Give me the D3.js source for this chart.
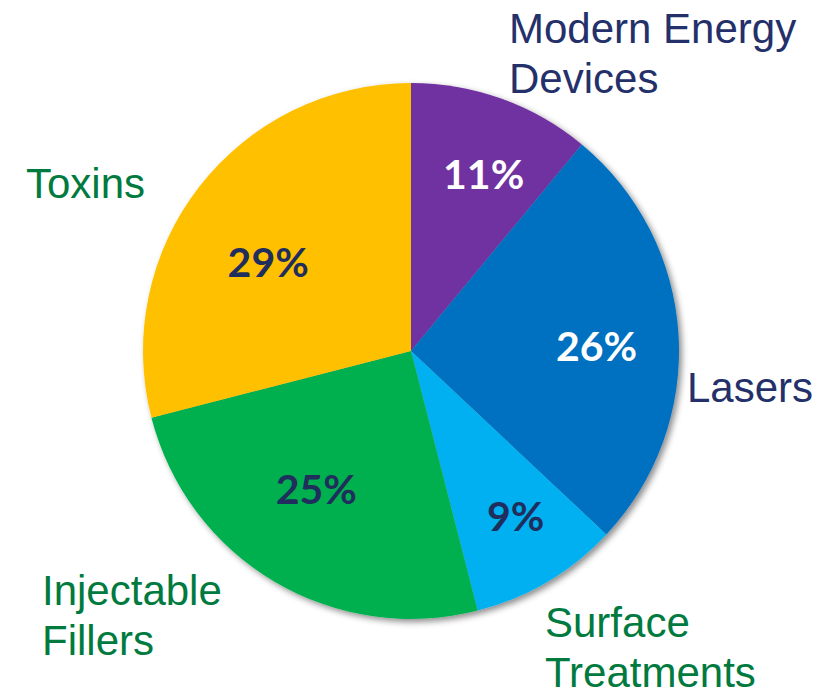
<!DOCTYPE html>
<html><head><meta charset="utf-8">
<script src="https://cdn.jsdelivr.net/npm/d3@7"></script>
<style>html,body{margin:0;padding:0;background:#fff;}svg{display:block;}</style>
</head><body>
<svg id="chart" width="840" height="692"></svg>
<script>
// ---- data ----
const categories = ["Modern Energy Devices", "Lasers", "Surface Treatments", "Injectable Fillers", "Toxins"];
const values = [11, 26, 9, 25, 29];
const labelLines = [["Modern Energy", "Devices"], ["Lasers"], ["Surface", "Treatments"], ["Injectable", "Fillers"], ["Toxins"]];

// ---- styles / layout ----
const colors = ["#7030A0", "#0070C0", "#00B0F0", "#00B050", "#FFC000"];
const pctColors = ["#FFFFFF", "#FFFFFF", "#1F2E5C", "#1F2E5C", "#1F2E5C"];
const nameColors = ["#24306A", "#24306A", "#007A3E", "#007A3E", "#007A3E"];
const namePos = [[509, 43], [687, 402], [545, 637], [42, 605], [26, 198]];
const pctNudge = [[11, -5], [4, 7], [12, 9], [-2, -18], [1, 23]];
const cx = 411, cy = 351, R = 268, labelR = 182;

const svg = d3.select("#chart");
const defs = svg.append("defs");
const f = defs.append("filter").attr("id", "shadow").attr("x", "-10%").attr("y", "-10%").attr("width", "125%").attr("height", "125%");
f.append("feDropShadow").attr("dx", 3).attr("dy", 3).attr("stdDeviation", 3).attr("flood-color", "#000").attr("flood-opacity", 0.45);

const pie = d3.pie().sort(null).value(d => d)(values);
const arc = d3.arc().innerRadius(0).outerRadius(R);
const labelArc = d3.arc().innerRadius(labelR).outerRadius(labelR);

const g = svg.append("g").attr("transform", `translate(${cx},${cy})`);
g.append("g").attr("filter", "url(#shadow)")
  .selectAll("path").data(pie).join("path")
  .attr("d", arc)
  .attr("fill", (d, i) => colors[i]);

g.selectAll("text.pct").data(pie).join("text")
  .attr("class", "pct")
  .attr("transform", (d, i) => {
    const c = labelArc.centroid(d);
    return `translate(${c[0] + pctNudge[i][0]},${c[1] + pctNudge[i][1]})`;
  })
  .attr("text-anchor", "middle")
  .attr("dy", "0.35em")
  .attr("font-family", "Lato, 'Open Sans', sans-serif")
  .attr("font-weight", 700)
  .attr("font-size", 41)
  .attr("fill", (d, i) => pctColors[i])
  .text(d => d.data + "%");

const names = svg.append("g");
labelLines.forEach((lines, i) => {
  const t = names.append("text")
    .attr("x", namePos[i][0]).attr("y", namePos[i][1])
    .attr("font-family", "'Liberation Sans', Arial, sans-serif")
    .attr("font-size", 42)
    .attr("fill", nameColors[i]);
  lines.forEach((ln, j) => {
    t.append("tspan").attr("x", namePos[i][0]).attr("dy", j === 0 ? 0 : 50).text(ln);
  });
});
</script>
</body></html>
